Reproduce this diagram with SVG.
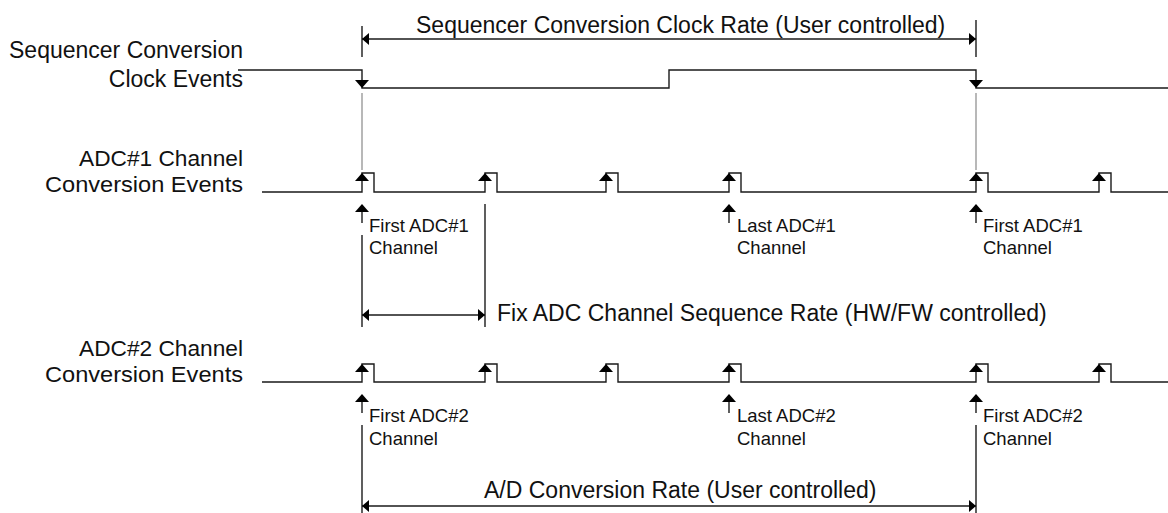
<svg xmlns="http://www.w3.org/2000/svg" width="1168" height="513" viewBox="0 0 1168 513">
<style>
text{font-family:"Liberation Sans",Arial,sans-serif;fill:#111}
.big{font-size:23px}
.lab{font-size:22px}
.sm{font-size:18.5px}
.r{text-anchor:end}
.w{fill:none;stroke:#1a1a1a;stroke-width:1.4}
.g{fill:none;stroke:#9a9a9a;stroke-width:1.4}
.d{fill:none;stroke:#1a1a1a;stroke-width:1.4}
.ah{fill:#000}
</style>
<defs>
<path id="up" class="ah" d="M0,0 L-7,8 L7,8 Z"/>
<path id="dn" class="ah" d="M0,0 L-7,-8 L7,-8 Z"/>
<path id="lf" class="ah" d="M0,0 L7,-6 L7,6 Z"/>
<path id="rt" class="ah" d="M0,0 L-7,-6 L-7,6 Z"/>
</defs>
<rect width="1168" height="513" fill="#fff"/>

<g id="labels">
<text class="big r" x="243" y="58">Sequencer Conversion</text>
<text class="big r" x="243" y="87">Clock Events</text>
<text class="lab r" x="243" y="166" textLength="164" lengthAdjust="spacingAndGlyphs">ADC#1 Channel</text>
<text class="lab r" x="243" y="192" textLength="198" lengthAdjust="spacingAndGlyphs">Conversion Events</text>
<text class="lab r" x="243" y="356" textLength="164" lengthAdjust="spacingAndGlyphs">ADC#2 Channel</text>
<text class="lab r" x="243" y="382" textLength="198" lengthAdjust="spacingAndGlyphs">Conversion Events</text>
</g>

<g id="clock">
<path class="w" d="M238,70 H362 V88 H669 V70 H976 V88 H1168"/>
<use href="#dn" x="362" y="88"/>
<use href="#dn" x="976" y="88"/>
</g>

<g id="adc1">
<path class="w" d="M262,192 H362 V173 H374 V192 H485 V173 H497 V192 H606 V173 H618 V192 H729 V173 H741 V192 H976 V173 H988 V192 H1099 V173 H1111 V192 H1168"/>
<use href="#up" x="362" y="173"/>
<use href="#up" x="485" y="173"/>
<use href="#up" x="606" y="173"/>
<use href="#up" x="729" y="173"/>
<use href="#up" x="976" y="173"/>
<use href="#up" x="1099" y="173"/>
</g>

<g id="adc2">
<path class="w" d="M262,382 H362 V364 H374 V382 H485 V364 H497 V382 H606 V364 H618 V382 H729 V364 H741 V382 H976 V364 H988 V382 H1099 V364 H1111 V382 H1168"/>
<use href="#up" x="362" y="364"/>
<use href="#up" x="485" y="364"/>
<use href="#up" x="606" y="364"/>
<use href="#up" x="729" y="364"/>
<use href="#up" x="976" y="364"/>
<use href="#up" x="1099" y="364"/>
</g>

<g id="connectors">
<line class="g" x1="362" y1="93" x2="362" y2="170"/>
<line class="g" x1="976" y1="93" x2="976" y2="170"/>
<line class="d" x1="362" y1="26" x2="362" y2="57"/>
<line class="d" x1="976" y1="20" x2="976" y2="57"/>
<line class="d" x1="362" y1="39" x2="976" y2="39"/>
<use href="#lf" x="362" y="39"/>
<use href="#rt" x="976" y="39"/>
<line class="d" x1="362" y1="205" x2="362" y2="223"/>
<use href="#up" x="362" y="204"/>
<line class="d" x1="729" y1="205" x2="729" y2="223"/>
<use href="#up" x="729" y="204"/>
<line class="d" x1="976" y1="205" x2="976" y2="223"/>
<use href="#up" x="976" y="204"/>
<line class="d" x1="362" y1="235" x2="362" y2="327"/>
<line class="d" x1="485" y1="204" x2="485" y2="327"/>
<line class="d" x1="362" y1="315" x2="485" y2="315"/>
<use href="#lf" x="362" y="315"/>
<use href="#rt" x="485" y="315"/>
<line class="d" x1="362" y1="395" x2="362" y2="413"/>
<use href="#up" x="362" y="394"/>
<line class="d" x1="729" y1="395" x2="729" y2="413"/>
<use href="#up" x="729" y="394"/>
<line class="d" x1="976" y1="395" x2="976" y2="413"/>
<use href="#up" x="976" y="394"/>
<line class="d" x1="362" y1="425" x2="362" y2="513"/>
<line class="d" x1="976" y1="425" x2="976" y2="513"/>
<line class="d" x1="362" y1="506" x2="976" y2="506"/>
<use href="#lf" x="362" y="506"/>
<use href="#rt" x="976" y="506"/>
</g>

<g id="annotations">
<text class="big" x="416" y="33">Sequencer Conversion Clock Rate (User controlled)</text>
<text class="sm" x="369" y="232">First ADC#1</text>
<text class="sm" x="369" y="254">Channel</text>
<text class="sm" x="737" y="232">Last ADC#1</text>
<text class="sm" x="737" y="254">Channel</text>
<text class="sm" x="983" y="232">First ADC#1</text>
<text class="sm" x="983" y="254">Channel</text>
<text class="big" x="497" y="321">Fix ADC Channel Sequence Rate (HW/FW controlled)</text>
<text class="sm" x="369" y="422">First ADC#2</text>
<text class="sm" x="369" y="445">Channel</text>
<text class="sm" x="737" y="422">Last ADC#2</text>
<text class="sm" x="737" y="445">Channel</text>
<text class="sm" x="983" y="422">First ADC#2</text>
<text class="sm" x="983" y="445">Channel</text>
<text class="big" x="484" y="498">A/D Conversion Rate (User controlled)</text>
</g>
</svg>
